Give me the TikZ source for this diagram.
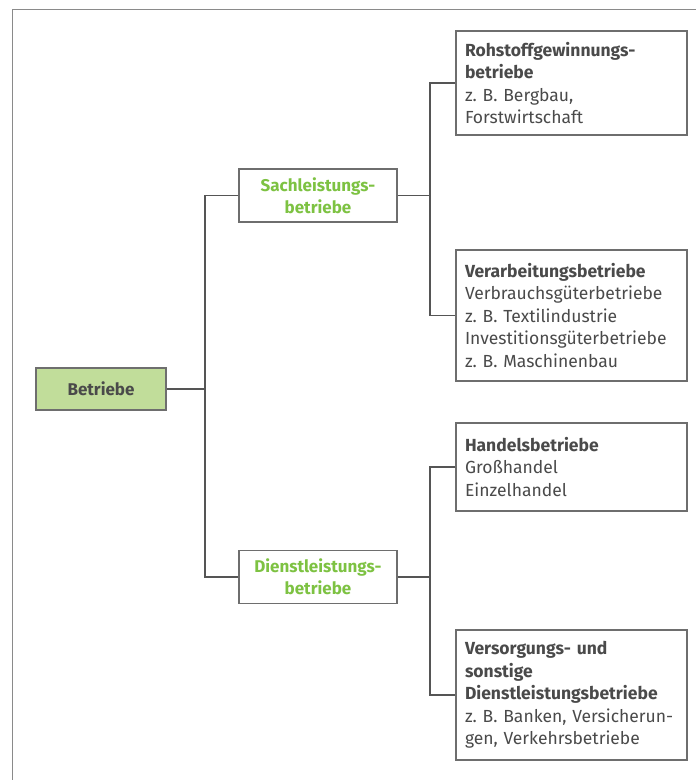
\documentclass[tikz,border=0pt]{standalone}
\usepackage{fontspec}
\setmainfont{Fira Sans}
\frenchspacing
\definecolor{txt}{HTML}{4A4A4A}
\definecolor{boxline}{HTML}{6E6E6E}
\definecolor{conn}{HTML}{555555}
\definecolor{grn}{HTML}{7DC242}
\definecolor{grnfill}{HTML}{C1DD9A}
\definecolor{frame}{HTML}{8A8A8A}
\begin{document}
\begin{tikzpicture}[x=1pt,y=-1pt,
  base/.style={draw=boxline, line width=1.1pt, font=\fontsize{17.5}{22.5}\selectfont, text=txt, inner sep=0pt},
  root/.style={base, fill=grnfill, font=\fontsize{17}{22.5}\selectfont\bfseries, minimum width=130pt, minimum height=42pt},
  mid/.style={base, fill=white, text=grn, font=\fontsize{17}{22}\selectfont\bfseries, align=center, minimum width=158pt, minimum height=53pt},
  leaf/.style={base, fill=white, inner xsep=9pt, text width=213pt, align=left, minimum width=231pt},
  conn/.style={draw=conn, line width=1.1pt}
]
\useasboundingbox (0,0) rectangle (696,780);
\draw[frame, line width=1.4pt] (12.5,780) -- (12.5,9.5) -- (696,9.5);

\node[root] (betr) at (101,389) {Betriebe};
\node[mid] (sach) at (318,195.5) {Sachleistungs-\\betriebe};
\node[mid] (dien) at (318,577) {Dienstleistungs-\\betriebe};

\node[leaf, minimum height=104pt] (roh) at (571.5,83) {\textbf{Rohstoffgewinnungs-}\\\textbf{betriebe}\\z. B. Bergbau,\\Forstwirtschaft};
\node[leaf, minimum height=131pt] (verarb) at (571.5,315.5) {\textbf{Verarbeitungsbetriebe}\\Verbrauchsgüterbetriebe\\z. B. Textilindustrie\\Investitionsgüterbetriebe\\z. B. Maschinenbau};
\node[leaf, minimum height=88pt] (handel) at (571.5,467) {\textbf{Handelsbetriebe}\\Großhandel\\Einzelhandel};
\node[leaf, minimum height=130pt] (vers) at (571.5,695) {\textbf{Versorgungs- und}\\\textbf{sonstige}\\\textbf{Dienstleistungsbetriebe}\\z. B. Banken, Versicherun-\\gen, Verkehrsbetriebe};

\coordinate (j1) at (205,389);
\coordinate (j2) at (430,195.5);
\coordinate (j3) at (430,577);

\draw[conn] (betr.east) -- (j1);
\draw[conn] (sach.west) -| (j1) |- (dien.west);
\draw[conn] (sach.east) -- (j2);
\draw[conn] (roh.west) -| (j2) |- (verarb.west);
\draw[conn] (dien.east) -- (j3);
\draw[conn] (handel.west) -| (j3) |- (vers.west);
\end{tikzpicture}
\end{document}
